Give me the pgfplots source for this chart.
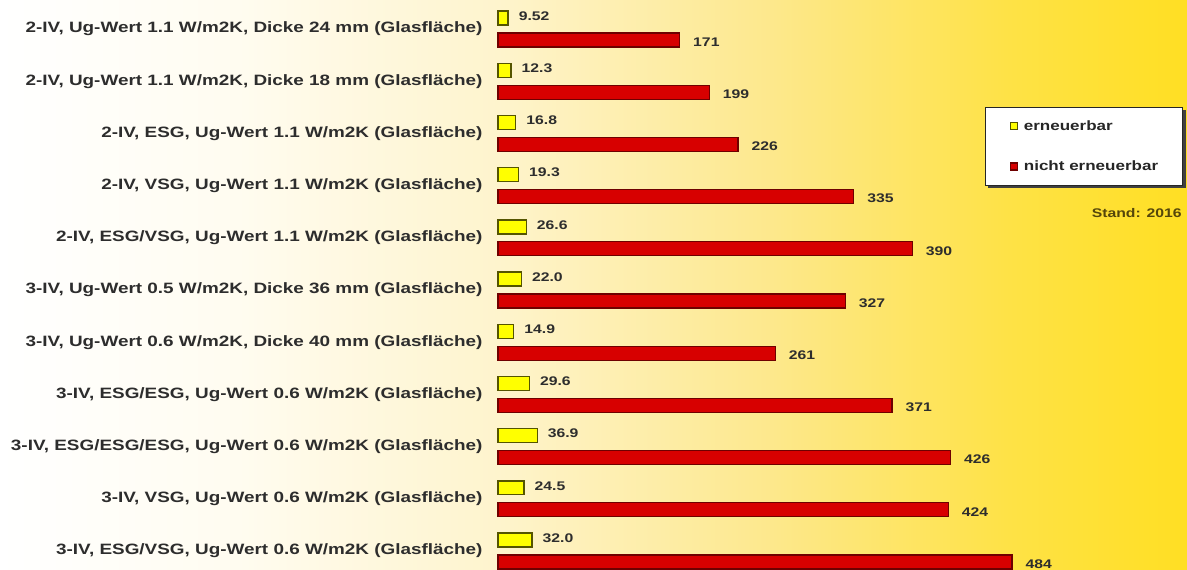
\documentclass[border=0pt]{standalone}
\usepackage{fontspec}
\setmainfont[FakeStretch=1.26]{Liberation Sans}
\usepackage{pgfplots}
\pgfplotsset{compat=1.18}
\definecolor{lab}{RGB}{45,45,45}
\definecolor{yfill}{RGB}{255,255,0}
\definecolor{ydraw}{RGB}{85,85,0}
\definecolor{rfill}{RGB}{215,0,0}
\definecolor{rdraw}{RGB}{110,0,0}
\definecolor{standc}{RGB}{85,70,10}
\definecolor{g1}{RGB}{255,252,240}
\definecolor{g2}{RGB}{254,244,205}
\definecolor{g3}{RGB}{253,232,140}
\definecolor{g4}{RGB}{254,226,70}
\definecolor{g5}{RGB}{255,223,35}
\pgfdeclarehorizontalshading{bg}{100bp}{color(0bp)=(white); color(25bp)=(white); color(35bp)=(g1); color(46bp)=(g2); color(57.5bp)=(g3); color(67.5bp)=(g4); color(75bp)=(g5); color(100bp)=(g5)}
\pgfplotsset{sqlegend/.style={legend image code/.code={\draw[##1] (0bp,-3.5bp) rectangle (7bp,3.5bp);}}}
\begin{document}
\begin{tikzpicture}
\shade[shading=bg] (-498bp,0bp) rectangle (689bp,570bp);
\begin{axis}[
  at={(0bp,0bp)}, anchor=south west,
  scale only axis, width=689bp, height=570bp,
  xmin=0, xmax=648.8,
  ymin=-0.556, ymax=10.364, y dir=reverse,
  axis line style={draw=none}, tick style={draw=none},
  xtick=\empty,
  ytick={0,1,2,3,4,5,6,7,8,9,10},
  yticklabels={
    {2-IV, Ug-Wert 1.1 W/m2K, Dicke 24 mm (Glasfläche)},
    {2-IV, Ug-Wert 1.1 W/m2K, Dicke 18 mm (Glasfläche)},
    {2-IV, ESG, Ug-Wert 1.1 W/m2K (Glasfläche)},
    {2-IV, VSG, Ug-Wert 1.1 W/m2K (Glasfläche)},
    {2-IV, ESG/VSG, Ug-Wert 1.1 W/m2K (Glasfläche)},
    {3-IV, Ug-Wert 0.5 W/m2K, Dicke 36 mm (Glasfläche)},
    {3-IV, Ug-Wert 0.6 W/m2K, Dicke 40 mm (Glasfläche)},
    {3-IV, ESG/ESG, Ug-Wert 0.6 W/m2K (Glasfläche)},
    {3-IV, ESG/ESG/ESG, Ug-Wert 0.6 W/m2K (Glasfläche)},
    {3-IV, VSG, Ug-Wert 0.6 W/m2K (Glasfläche)},
    {3-IV, ESG/VSG, Ug-Wert 0.6 W/m2K (Glasfläche)}},
  yticklabel style={font=\fontsize{15bp}{18bp}\selectfont\bfseries, text=lab, anchor=east, inner sep=0pt, xshift=-11bp},
  xbar, bar width=0.268,
  nodes near coords, point meta=explicit symbolic,
  nodes near coords style={anchor=west, inner sep=0pt, font=\fontsize{12.5bp}{15bp}\selectfont\bfseries, text=lab},
  clip=false,
  legend cell align=left,
  legend style={at={(axis cs:458.6,1.494)}, anchor=north west, fill=white, draw=black!85, line width=1.2bp,
    inner xsep=24bp, inner ysep=13bp, row sep=29bp,
    nodes={inner sep=0pt, font=\fontsize{13.5bp}{16bp}\selectfont\bfseries, text=black!85}},
]
\fill[black!75] ([xshift=3bp,yshift=-3bp]axis cs:458.6,1.494) rectangle ([xshift=3bp,yshift=-3bp]axis cs:645,2.989);
\addplot[fill=yfill, draw=ydraw, line width=1.3bp, bar shift=-0.21,
  every node near coord/.append style={xshift=10bp, yshift=2bp}, sqlegend]
  coordinates {
  (9.52,0) [9.52]
  (12.3,1) [12.3]
  (16.8,2) [16.8]
  (19.3,3) [19.3]
  (26.6,4) [26.6]
  (22.0,5) [22.0]
  (14.9,6) [14.9]
  (29.6,7) [29.6]
  (36.9,8) [36.9]
  (24.5,9) [24.5]
  (32.0,10) [32.0]
  };
\addlegendentry{\hspace*{6bp}erneuerbar}
\addplot[fill=rfill, draw=rdraw, line width=1.3bp, bar shift=0.21,
  every node near coord/.append style={xshift=13bp, yshift=-2bp}, sqlegend]
  coordinates {
  (171,0) [171]
  (199,1) [199]
  (226,2) [226]
  (335,3) [335]
  (390,4) [390]
  (327,5) [327]
  (261,6) [261]
  (371,7) [371]
  (426,8) [426]
  (424,9) [424]
  (484,10) [484]
  };
\addlegendentry{\hspace*{6bp}nicht erneuerbar}
\node[anchor=east, inner sep=0pt, font=\fontsize{12.5bp}{15bp}\selectfont\bfseries, text=standc] at (axis cs:644,3.525) {Stand: 2016};
\end{axis}
\pgfresetboundingbox
\path[use as bounding box] (-498bp,0bp) rectangle (689bp,570bp);
\end{tikzpicture}
\end{document}
